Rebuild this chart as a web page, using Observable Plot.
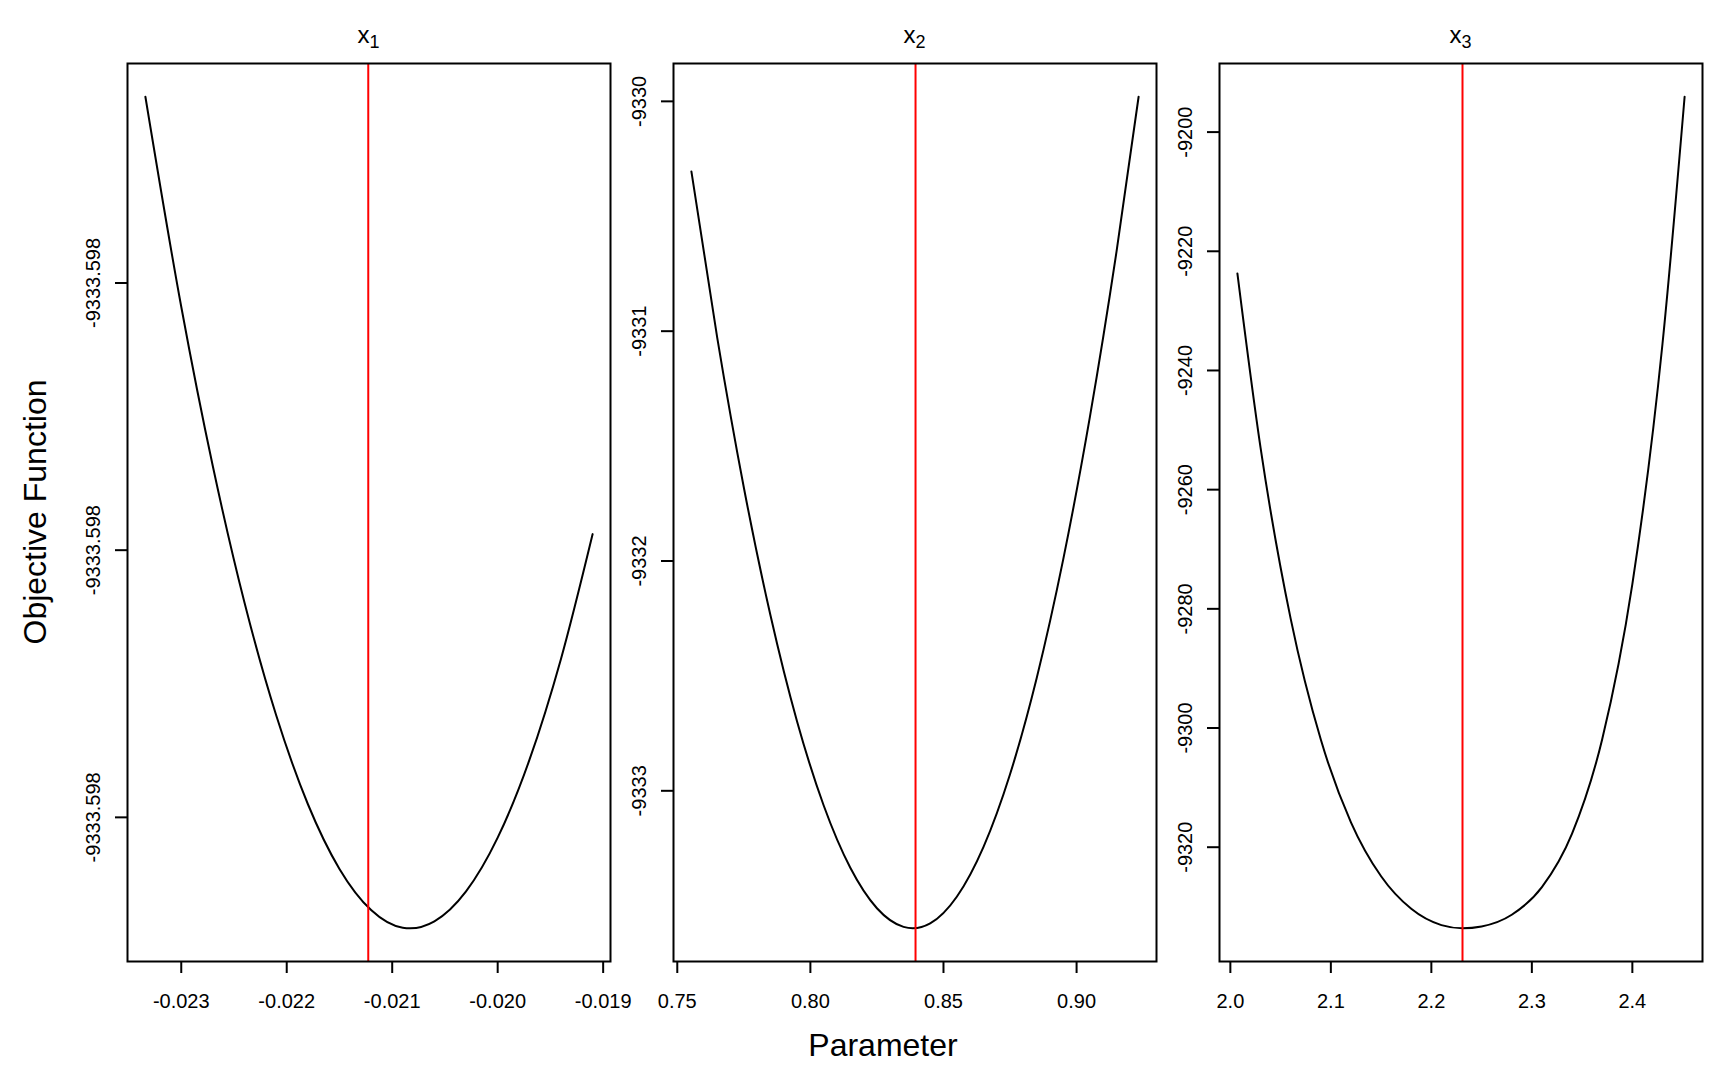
<!DOCTYPE html>
<html>
<head>
<meta charset="utf-8">
<script src="https://cdn.jsdelivr.net/npm/d3@7"></script>
<script src="https://cdn.jsdelivr.net/npm/@observablehq/plot@0.6"></script>
<style>
  body { margin: 0; background: #fff; font-family: "Liberation Sans", Arial, sans-serif; color: #000; }
  #wrap { position: relative; width: 1728px; height: 1075px; overflow: hidden; background: #fff; }
  .panel { position: absolute; top: 0; }
  .title { position: absolute; top: 23px; font-size: 24px; line-height: 24px; transform: translateX(-50%); white-space: nowrap; }
  .title sub { font-size: 18px; vertical-align: -5px; line-height: 0; }
  .xlab { position: absolute; top: 1029px; left: 883px; font-size: 32px; line-height: 32px; transform: translateX(-50%); white-space: nowrap; }
  .ylab { position: absolute; top: 512px; left: 35px; font-size: 32px; line-height: 32px; transform: translate(-50%, -50%) rotate(-90deg); white-space: nowrap; }
</style>
</head>
<body>
<div id="wrap"></div>
<script>
// ---- data ----
const panelNames = ["1", "2", "3"];

const x1Param = [-0.02334, -0.0230, -0.0227, -0.0224, -0.0221, -0.0218, -0.0215, -0.0212, -0.0209, -0.02083, -0.0206, -0.0203, -0.0200, -0.0197, -0.0194, -0.0191];
const x1Objective = [-9333.59797303, -9333.59798089, -9333.59798687, -9333.59799197, -9333.59799618, -9333.59799950, -9333.59800193, -9333.59800347, -9333.59800413, -9333.59800415, -9333.59800389, -9333.59800277, -9333.59800076, -9333.59799786, -9333.59799407, -9333.59798940];

const x2Param = [0.7553, 0.765, 0.775, 0.785, 0.795, 0.805, 0.815, 0.825, 0.835, 0.8385, 0.845, 0.855, 0.865, 0.875, 0.885, 0.895, 0.905, 0.915, 0.9233];
const x2Objective = [-9330.305, -9331.028, -9331.680, -9332.236, -9332.698, -9333.064, -9333.335, -9333.511, -9333.592, -9333.598, -9333.577, -9333.461, -9333.245, -9332.928, -9332.510, -9331.992, -9331.373, -9330.654, -9329.980];

const x3Param = [2.007, 2.03, 2.06, 2.09, 2.12, 2.15, 2.18, 2.21, 2.231, 2.25, 2.28, 2.31, 2.34, 2.37, 2.40, 2.43, 2.452];
const x3Objective = [-9223.72, -9252.92, -9281.64, -9301.94, -9315.82, -9324.88, -9330.34, -9333.07, -9333.598, -9333.29, -9331.33, -9326.71, -9317.73, -9301.88, -9275.84, -9235.52, -9194.07];

const estimates = [-0.021227, 0.8395, 2.231];

const x1Ticks = [-0.023, -0.022, -0.021, -0.020, -0.019];
const x2Ticks = [0.75, 0.80, 0.85, 0.90];
const x3Ticks = [2.0, 2.1, 2.2, 2.3, 2.4];
const y1Ticks = [-9333.59800, -9333.59799, -9333.59798];
const y2Ticks = [-9333, -9332, -9331, -9330];
const y3Ticks = [-9320, -9300, -9280, -9260, -9240, -9220, -9200];

// ---- layout ----
const frameLefts = [127, 673, 1219];
const frameWidth = 483;
const W = 1728, H = 1075;

const wrap = document.getElementById("wrap");

function padded(values) {
  const [a, b] = d3.extent(values);
  const r = b - a;
  return [a - 0.04 * r, b + 0.04 * r];
}

function makePanel(i, xs, ys, xTicks, xFmt, yTicks, yFmt) {
  const data = xs.map((x, j) => ({x, y: ys[j]}));
  const mL = i === 0 ? 127 : 70;
  const mR = 26;
  const chart = Plot.plot({
    width: mL + frameWidth + mR,
    height: H,
    marginLeft: mL,
    marginRight: mR,
    marginTop: 63,
    marginBottom: 114,
    style: {background: "transparent", overflow: "visible", fontFamily: "'Liberation Sans', Arial, sans-serif", color: "black"},
    x: {domain: padded(xs)},
    y: {domain: padded(ys)},
    marks: [
      Plot.line(data, {x: "x", y: "y", curve: "monotone-x", stroke: "black", strokeWidth: 2}),
      Plot.ruleX([estimates[i]], {stroke: "#ff0000", strokeWidth: 2}),
      Plot.axisX({ticks: xTicks, tickFormat: xFmt, tickSize: 12, tickPadding: 20, fontSize: 20, label: null, strokeWidth: 2}),
      Plot.axisY({ticks: yTicks, tickFormat: yFmt, tickSize: 12, tickPadding: 16, fontSize: 20, tickRotate: -90, label: null, strokeWidth: 2}),
      Plot.frame({stroke: "black", strokeWidth: 2})
    ]
  });
  chart.classList.add("panel");
  chart.style.left = (frameLefts[i] - mL) + "px";
  wrap.appendChild(chart);

  const t = document.createElement("div");
  t.className = "title";
  t.style.left = (frameLefts[i] + frameWidth / 2) + "px";
  t.innerHTML = "x<sub>" + panelNames[i] + "</sub>";
  wrap.appendChild(t);
}

makePanel(0, x1Param, x1Objective, x1Ticks, d => d.toFixed(3), y1Ticks, d => d.toFixed(3));
makePanel(1, x2Param, x2Objective, x2Ticks, d => d.toFixed(2), y2Ticks, d => String(d));
makePanel(2, x3Param, x3Objective, x3Ticks, d => d.toFixed(1), y3Ticks, d => String(d));

const xl = document.createElement("div");
xl.className = "xlab";
xl.textContent = "Parameter";
wrap.appendChild(xl);

const yl = document.createElement("div");
yl.className = "ylab";
yl.textContent = "Objective Function";
wrap.appendChild(yl);
</script>
</body>
</html>
